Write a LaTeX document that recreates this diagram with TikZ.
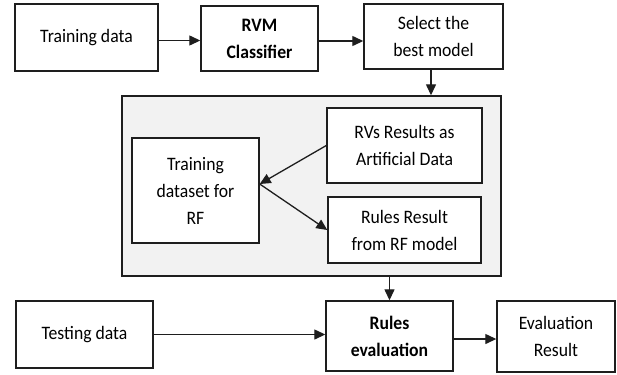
\documentclass[tikz,border=0pt]{standalone}
\usepackage{fontspec}
\setmainfont[FakeStretch=0.93]{Carlito}
\usetikzlibrary{arrows.meta}
\definecolor{lineC}{HTML}{1E1E1E}
\definecolor{grayfill}{HTML}{F2F2F2}
\begin{document}
\begin{tikzpicture}[x=1bp,y=-1bp,
  box/.style={draw=lineC,line width=1.4bp,fill=white,inner sep=0pt,align=center,
    font=\fontsize{19bp}{27bp}\selectfont},
  bigbox/.style={draw=lineC,line width=1.4bp,fill=grayfill,inner sep=0pt},
  arr/.style={draw=lineC,line width=1.3bp,-{Triangle[length=11bp,width=10bp]}}]
\useasboundingbox (0,0) rectangle (617,374);
\node[bigbox,minimum width=379bp,minimum height=180bp] (gray) at (311.5,186) {};
\node[box,minimum width=143bp,minimum height=67bp] (train) at (86.5,37.5) {Training data};
\node[box,minimum width=117bp,minimum height=65bp] (rvm) at (259.5,38.5) {\bfseries RVM\\\bfseries Classifier};
\node[box,minimum width=139bp,minimum height=65bp] (select) at (433.5,36.5) {Select the\\best model};
\node[box,minimum width=155bp,minimum height=75bp] (rvs) at (404.5,145.5) {RVs Results as\\Artificial Data};
\node[box,minimum width=127bp,minimum height=105bp] (tds) at (195.5,190.5) {Training\\dataset for\\RF};
\node[box,minimum width=153bp,minimum height=66bp] (rules) at (404.5,230) {Rules Result\\from RF model};
\node[box,minimum width=137bp,minimum height=67bp] (test) at (84.5,334.5) {Testing data};
\node[box,minimum width=127bp,minimum height=70bp] (reval) at (389.5,336) {\bfseries Rules\\\bfseries evaluation};
\node[box,minimum width=118bp,minimum height=71bp] (evres) at (556,336.5) {Evaluation\\Result};
\coordinate (tdsin) at ([yshift=6.5bp]tds.east);
\draw[arr] ([yshift=-3bp]train.east) -- ([yshift=-3bp]train.east -| rvm.west);
\draw[arr] ([yshift=-2.5bp]rvm.east) -- ([yshift=-2.5bp]rvm.east -| select.west);
\draw[arr] ([xshift=-2.5bp]select.south) -- ([xshift=-2.5bp]select.south |- gray.north);
\draw[arr] (rvs.west) -- (tdsin);
\draw[arr] (tdsin) -- (rules.west);
\draw[arr] (gray.south -| reval.north) -- (reval.north);
\draw[arr] (test.east) -- (test.east -| reval.west);
\draw[arr] ([yshift=-3bp]reval.east) -- ([yshift=-3bp]reval.east -| evres.west);
\end{tikzpicture}
\end{document}
